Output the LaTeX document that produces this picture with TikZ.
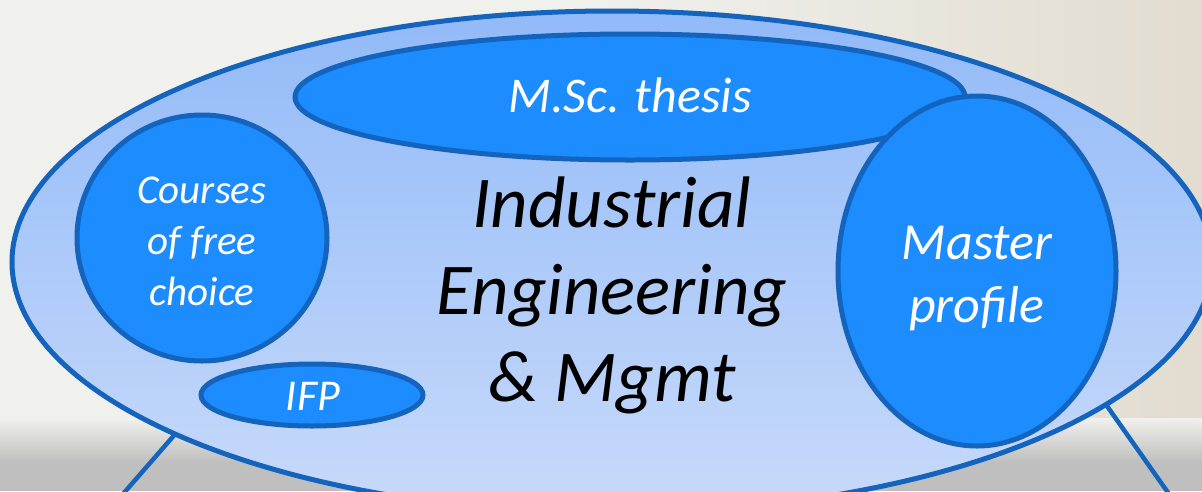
\documentclass[tikz,border=0pt]{standalone}
\usepackage{fontspec}
\setmainfont{Carlito}
\definecolor{bgtop}{RGB}{240,240,236}
\definecolor{bgwarm}{RGB}{226,220,208}
\definecolor{bggray}{RGB}{191,191,191}
\definecolor{rim}{RGB}{20,100,190}
\definecolor{inner}{RGB}{28,140,255}
\definecolor{bigtop}{RGB}{146,186,248}
\definecolor{bigbot}{RGB}{200,218,250}
\tikzset{
  innerblob/.style={draw=rim, line width=5pt, fill=inner},
  legline/.style={draw=rim, line width=4.5pt},
  whitetxt/.style={text=white, align=center, inner sep=0pt},
}
\begin{document}
\begin{tikzpicture}[x=1pt,y=-1pt]
\useasboundingbox (0,0) rectangle (1202,491);
% background
\fill[bgtop] (0,0) rectangle (1202,491);
\shade[left color=bgtop, right color=bgwarm] (600,0) rectangle (1202,425);
\shade[top color=bgtop, bottom color=bggray] (0,418) rectangle (1202,462);
\fill[bggray] (0,462) rectangle (1202,491);
% legs
\coordinate (l1a) at (177,432); \coordinate (l1b) at (123,494);
\coordinate (l2a) at (370,487); \coordinate (l2b) at (371,494);
\coordinate (l3a) at (856,476); \coordinate (l3b) at (856,494);
\coordinate (l4a) at (1107,406); \coordinate (l4b) at (1169,494);
\draw[legline] (l1a) -- (l1b);
\draw[legline] (l2a) -- (l2b);
\draw[legline] (l3a) -- (l3b);
\draw[legline] (l4a) -- (l4b);
% big ellipse
\shade[top color=bigtop, bottom color=bigbot] (612,262) ellipse [x radius=600, y radius=251];
\draw[rim, line width=5pt] (612,262) ellipse [x radius=600, y radius=251];
% thesis
\draw[innerblob] (630,97) ellipse [x radius=335, y radius=63];
\node[whitetxt, anchor=base, font=\itshape\fontsize{50}{60}\selectfont] (thesis) at (630,112) {M.Sc. thesis};
% master profile
\draw[innerblob] (977,271) ellipse [x radius=139, y radius=175];
\node[whitetxt, anchor=base, font=\itshape\fontsize{52}{63}\selectfont] (master) at (977,322) {Master\\profile};
% courses
\draw[innerblob] (202,238) ellipse [x radius=125, y radius=123];
\node[whitetxt, anchor=base, font=\itshape\fontsize{41}{51}\selectfont] (courses) at (202,305) {Courses\\of free\\choice};
% IFP
\draw[innerblob] (312,395) ellipse [x radius=111, y radius=31];
\node[whitetxt, anchor=base, font=\itshape\fontsize{44}{50}\selectfont] (ifp) at (313,410) {IFP};
% main text
\node[text=black, align=center, inner sep=0pt, anchor=base, font=\itshape\fontsize{73}{87}\selectfont] (main) at (612,401) {Industrial\\Engineering\\\& Mgmt};
\end{tikzpicture}
\end{document}
